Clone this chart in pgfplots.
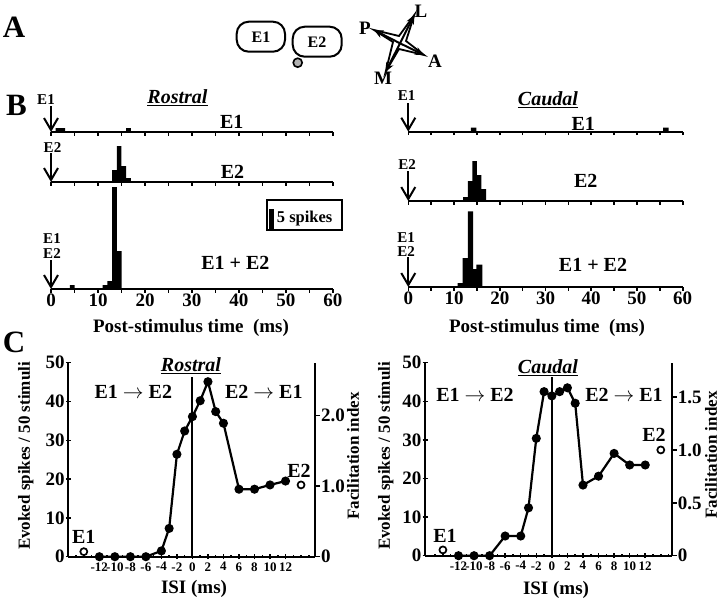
\documentclass[border=0pt]{standalone}
\usepackage{pgfplots}
\pgfplotsset{compat=1.18}
\usepackage{fontspec}
\setmainfont{Liberation Serif}
\usetikzlibrary{arrows.meta}
\newcommand\fs[1]{\fontsize{#1}{#1}\selectfont\bfseries}
\begin{document}
\begin{tikzpicture}
\useasboundingbox (0,0) rectangle (720pt,-602pt);
\pgfplotsset{
 hist/.style={scale only axis, anchor=south west, clip=false, xmin=0, xmax=60, ymin=0,
   axis x line=bottom, axis y line=none, axis line style={-, line width=2pt},
   xtick={0,10,...,60}, minor xtick={5,15,...,55}, xticklabels={},
   tick align=outside, major tick length=3.5pt, minor tick length=3.5pt,
   tick style={black, line width=1.6pt},
   xticklabel style={font=\fs{19}, inner sep=1pt}},
 bars/.style={ybar interval, fill=black, draw=none},
 cmain/.style={scale only axis, anchor=south west, clip=false, width=246.7pt, height=194pt,
   ymin=0, ymax=50,
   axis x line=bottom, axis y line=left, axis line style={-, line width=2.2pt},
   xtick={-12,-10,...,12}, xticklabels={-12,-10,-8,-6,-4,-2,0,2,4,6,8,10,12},
   minor xtick={-15,-14,...,15},
   ytick={0,10,...,50}, yticklabels={0,10,20,30,40,50},
   tick align=center, major tick length=5pt, minor tick length=3pt,
   tick style={black, line width=1.5pt},
   xticklabel style={font=\fs{13}, inner sep=1pt, yshift=-2pt},
   yticklabel style={font=\fs{19}, inner sep=1pt}},
 cright/.style={scale only axis, anchor=south west, clip=false, width=246.7pt, height=194pt,
   ymin=0, axis x line=none, axis y line*=right, axis line style={-, line width=2.2pt},
   tick align=outside, major tick length=5pt, tick style={black, line width=1.5pt},
   yticklabel style={font=\fs{19}, inner sep=1pt}},
 dline/.style={black, line width=2.2pt, mark=*, mark size=3.4pt},
 open/.style={only marks, mark=o, mark size=3.5pt, line width=1.7pt, black},
}
% ---------- Panel B, Rostral ----------
\begin{axis}[hist, at={(51pt,-132pt)}, width=282pt, ymax=5, height=20pt]
\addplot[bars] coordinates {(1,1)(3,0)(16,1)(17,0)};
\end{axis}
\begin{axis}[hist, at={(51pt,-182pt)}, width=282pt, ymax=10, height=40pt]
\addplot[bars] coordinates {(13,3)(14,9)(15,4)(16,1)(17,0)};
\end{axis}
\begin{axis}[hist, at={(51pt,-289pt)}, width=282pt, ymax=27, height=108pt,
  xticklabels={0,10,20,30,40,50,60}]
\addplot[bars] coordinates {(4,1)(5,0)(11,1)(12,2)(13,25.5)(14,9.5)(15,0)};
\end{axis}
% ---------- Panel B, Caudal ----------
\begin{axis}[hist, at={(408.3pt,-131.7pt)}, width=274.4pt, ymax=5, height=20pt]
\addplot[bars] coordinates {(13.7,1)(14.9,0)(55.7,1)(56.9,0)};
\end{axis}
\begin{axis}[hist, at={(408.3pt,-201pt)}, width=274.4pt, ymax=11, height=44pt]
\addplot[bars] coordinates {(12,1)(13,5)(14,10)(15,6.5)(16,3)(17,0)};
\end{axis}
\begin{axis}[hist, at={(408.3pt,-287pt)}, width=274.4pt, ymax=20, height=80pt,
  xticklabels={0,10,20,30,40,50,60}]
\addplot[bars] coordinates {(10.8,1)(11.9,7.25)(13,18.9)(14.2,4.5)(14.9,5.6)(16.2,0)};
\end{axis}
% ---------- Panel C, Rostral ----------
\begin{axis}[cmain, at={(68.3pt,-556.7pt)}, xmin=-16, xmax=15.8]
\addplot[black, line width=2pt] coordinates {(0,0)(0,46.4)};
\addplot[dline] coordinates {(-12,0)(-10,0)(-8,0)(-6,0)(-4,1.5)(-3,7.3)(-2,26.4)(-1,32.4)(0,36.1)(1,40.2)(2,45.1)(3,37.4)(4,34.4)(6,17.4)(8,17.4)(10,18.5)(12,19.5)};
\addplot[open] coordinates {(-14,1.3)(14,18.5)};
\end{axis}
\begin{axis}[cright, at={(68.3pt,-556.7pt)}, xmin=-16, xmax=15.8, ymax=2.747,
  ytick={0,1,2}, yticklabels={0,1.0,2.0}]
\addplot[draw=none] coordinates {(0,0)};
\end{axis}
% ---------- Panel C, Caudal ----------
\begin{axis}[cmain, at={(425pt,-555.7pt)}, height=193pt, xmin=-16.3, xmax=15.4]
\addplot[black, line width=2pt] coordinates {(0,0)(0,46.4)};
\addplot[dline] coordinates {(-12,0)(-10,0)(-8,0)(-6,5.1)(-4,5.1)(-3,12.4)(-2,30.4)(-1,42.5)(0,41.4)(1,42.5)(2,43.5)(3,39.5)(4,18.3)(6,20.6)(8,26.5)(10,23.5)(12,23.5)};
\addplot[open] coordinates {(-14,1.5)(14,27.4)};
\end{axis}
\begin{axis}[cright, at={(425pt,-555.7pt)}, height=193pt, xmin=-16.3, xmax=15.4, ymax=1.825,
  ytick={0,0.5,1,1.5}, yticklabels={0,0.5,1.0,1.5}]
\addplot[draw=none] coordinates {(0,0)};
\end{axis}
% ---------- annotations ----------
\begin{scope}[x=1pt,y=-1pt]
\tikzset{barrow/.style={line width=2pt, -{Straight Barb[length=12pt,width=14pt,line width=2pt]}}}
% panel letters
\node[font=\fs{31}] at (14,27) {A};
\node[font=\fs{31}] at (16.5,105) {B};
\node[font=\fs{31}] at (14,342) {C};
% panel A
\draw[line width=2pt, rounded corners=12pt] (236.7,21.7) rectangle (285,51.7);
\draw[line width=2pt, rounded corners=12pt] (292.7,26.7) rectangle (341.7,56.7);
\node[font=\fs{16}] at (261,37) {E1};
\node[font=\fs{16}] at (317,42) {E2};
\draw[line width=1.6pt, fill=gray!60] (297.7,62.7) circle (4.5);
\draw[line width=1.8pt] (414.3,15) -- (406,41) -- (424,55) -- (399,49) -- (385.7,71.7) -- (393,42) -- (374,30) -- (399,36) -- cycle;
\foreach \tx/\ty in {414.3/15, 374/30, 424/55, 385.7/71.7}
  \draw[line width=2pt, -{Stealth[length=9pt,width=8pt]}] (400,43.3) -- (\tx,\ty);
\node[font=\fs{19}] at (365,28) {P};
\node[font=\fs{19}] at (421,11) {L};
\node[font=\fs{19}] at (435,61) {A};
\node[font=\fs{19}] at (383,78) {M};
% panel B titles
\node[font=\fs{20}] at (177.5,98) {\underline{\itshape Rostral}};
\node[font=\fs{20}] at (548,100) {\underline{\itshape Caudal}};
% row labels
\node[font=\fs{20}] at (231.7,121.7) {E1};
\node[font=\fs{20}] at (232.5,171.5) {E2};
\node[font=\fs{20}] at (235.3,263) {E1 + E2};
\node[font=\fs{20}] at (583.3,123.8) {E1};
\node[font=\fs{20}] at (585.8,181) {E2};
\node[font=\fs{20}] at (593,265) {E1 + E2};
% stimulus arrows
\draw[barrow] (51,106) -- (51,132);
\node[font=\fs{15}] at (46,100) {E1};
\draw[barrow] (51,153) -- (51,182);
\node[font=\fs{15}] at (52.5,148) {E2};
\draw[barrow] (51,260) -- (51,289);
\node[font=\fs{15}] at (52,239) {E1};
\node[font=\fs{15}] at (52,253.5) {E2};
\draw[barrow] (408.3,103) -- (408.3,131.7);
\node[font=\fs{15}] at (406.5,96) {E1};
\draw[barrow] (408.3,171) -- (408.3,201);
\node[font=\fs{15}] at (407,165) {E2};
\draw[barrow] (408.3,257) -- (408.3,287);
\node[font=\fs{15}] at (406,237.5) {E1};
\node[font=\fs{15}] at (406,252) {E2};
% scale box
\draw[line width=1.8pt] (266.7,200) rectangle (341.7,230);
\fill[black] (269.3,209) rectangle (274,229);
\node[font=\fs{16.5}, anchor=west, inner sep=0pt] at (276.7,218.3) {5 spikes};
% axis titles B
\node[font=\fs{19}] at (191,328) {Post-stimulus time\ \ (ms)};
\node[font=\fs{19}] at (547,328) {Post-stimulus time\ \ (ms)};
% panel C texts
\node[font=\fs{20}] at (191,366) {\underline{\itshape Rostral}};
\node[font=\fs{20}] at (548,368) {\underline{\itshape Caudal}};
\node[font=\fs{20}] at (133.3,391.7) {E1 $\rightarrow$ E2};
\node[font=\fs{20}] at (263.8,391.7) {E2 $\rightarrow$ E1};
\node[font=\fs{20}] at (475,395) {E1 $\rightarrow$ E2};
\node[font=\fs{20}] at (624,395) {E2 $\rightarrow$ E1};
\node[font=\fs{20}] at (83.8,537) {E1};
\node[font=\fs{20}] at (299,471) {E2};
\node[font=\fs{20}] at (445,536) {E1};
\node[font=\fs{20}] at (654,435) {E2};
\node[font=\fs{17}, rotate=90] at (25.7,456) {Evoked spikes / 50 stimuli};
\node[font=\fs{17}, rotate=90] at (385.7,456) {Evoked spikes / 50 stimuli};
\node[font=\fs{17}, rotate=90] at (353,456) {Facilitation index};
\node[font=\fs{17}, rotate=90] at (711,455) {Facilitation index};
\node[font=\fs{19}] at (194,589) {ISI (ms)};
\node[font=\fs{19}] at (556,590) {ISI (ms)};
\end{scope}
\end{tikzpicture}
\end{document}
